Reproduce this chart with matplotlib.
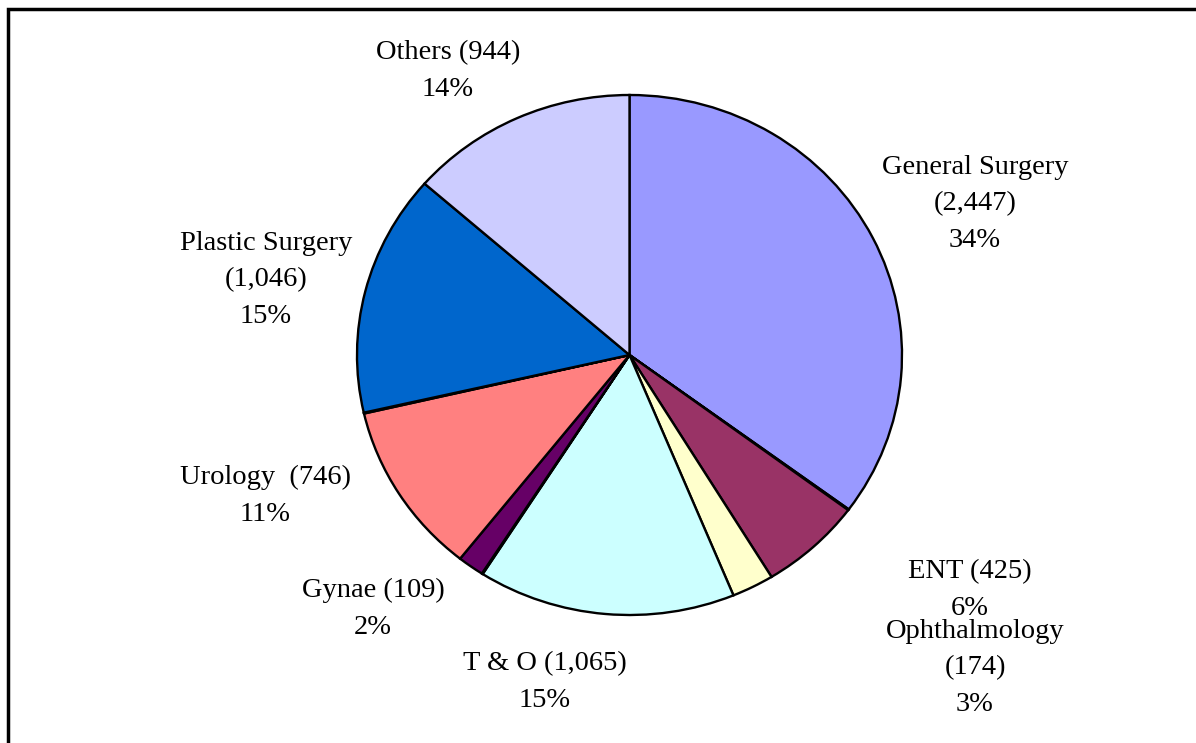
import matplotlib.pyplot as plt
from matplotlib.patches import Rectangle

# clockwise from 12 o'clock; the None entries are the hair-thin blank slices
specialties = ["General Surgery", None, "ENT", "Ophthalmology", "T & O", None,
               "Gynae", "Urology", None, "Plastic Surgery", "Others"]
cases = [2447, 4, 425, 174, 1065, 4, 109, 746, 4, 1046, 944]
colors = ["#9999FF", "#FFFFFF", "#993366", "#FFFFCC", "#CCFFFF", "#FFFFFF",
          "#660066", "#FF8080", "#FFFFFF", "#0066CC", "#CCCCFF"]

label_texts = ["General Surgery\n(2,447)\n34%", "ENT (425)\n6%",
               "Ophthalmology\n(174)\n3%", "T & O (1,065)\n15%", "Gynae (109)\n2%",
               "Urology  (746)\n11%", "Plastic Surgery\n(1,046)\n15%",
               "Others (944)\n14%"]
# label block centres in pixels (x, y from top)
label_pos = [(975, 204), (970, 590), (975, 668), (545, 682), (373, 609),
             (265, 496), (266, 280), (448, 71)]

W, H = 1196, 743
fig = plt.figure(figsize=(W / 100, H / 100), dpi=100)
plt.rcParams["font.family"] = ["Liberation Serif", "DejaVu Serif"]

# outer frame (right and bottom run off the image)
fig.patches.append(Rectangle((8 / W, -0.2), 1.5, 1.2 - 9 / H, transform=fig.transFigure,
                             fill=False, edgecolor="black", linewidth=2.5))

ax = fig.add_axes([357 / W, 1 - 615 / H, 545 / W, 520 / H])
ax.pie(cases, colors=colors, startangle=90, counterclock=False,
       wedgeprops=dict(edgecolor="black", linewidth=1.7))
ax.set_aspect("auto")
ax.set_xlim(-1, 1)
ax.set_ylim(-1, 1)
ax.axis("off")

for txt, (px, py) in zip(label_texts, label_pos):
    fig.text(px / W, 1 - py / H, txt, ha="center", va="center",
             fontsize=20.5, linespacing=1.6, multialignment="center")

fig.savefig("out.png", dpi=100)
